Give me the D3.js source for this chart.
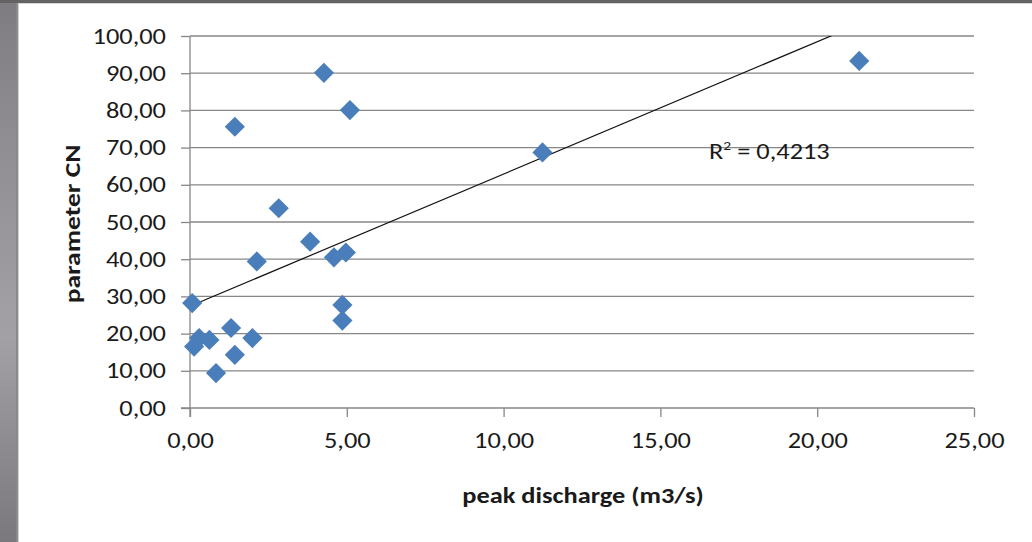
<!DOCTYPE html>
<html>
<head>
<meta charset="utf-8">
<script src="https://cdn.jsdelivr.net/npm/d3@7"></script>
<style>
  html, body { margin: 0; padding: 0; background: #ffffff; }
  svg { display: block; }
  text { font-family: Carlito, Lato, "Open Sans", sans-serif; fill: #1a1a1a; }
</style>
</head>
<body>
<svg id="chart" width="1032" height="542"></svg>
<script>
// ---- data ----
const peakDischarge = [0.07, 0.13, 0.29, 0.62, 0.83, 1.31, 1.43, 1.43, 1.99, 2.13,
                       2.83, 3.83, 4.27, 4.59, 4.86, 4.86, 4.97, 5.10, 11.24, 21.34];
const parameterCN   = [28.2, 16.5, 18.8, 18.3, 9.4, 21.5, 14.3, 75.6, 18.8, 39.4,
                       53.7, 44.7, 90.1, 40.5, 27.7, 23.5, 41.8, 80.1, 68.7, 93.3];
const xTicks = [0, 5, 10, 15, 20, 25];
const yTicks = [0, 10, 20, 30, 40, 50, 60, 70, 80, 90, 100];
const xTitle = "peak discharge (m3/s)";
const yTitle = "parameter CN";
const r2Label = "0,4213";

const points = peakDischarge.map((x, i) => ({ x, y: parameterCN[i] }));
const fmt = v => d3.format(".2f")(v).replace(".", ",");
const STRETCH = 1.2; // reference text is drawn horizontally wide

function stretch(sel) {
  sel.each(function () {
    const L = this.getComputedTextLength();
    d3.select(this).attr("textLength", L * STRETCH).attr("lengthAdjust", "spacingAndGlyphs");
  });
}

const svg = d3.select("#chart");
const W = 1032, H = 542;

// ---- slide frame background ----
const defs = svg.append("defs");
const lg = defs.append("linearGradient").attr("id", "frameL").attr("x1", 0).attr("y1", 0).attr("x2", 0).attr("y2", 1);
lg.append("stop").attr("offset", "0%").attr("stop-color", "#7e7c80");
lg.append("stop").attr("offset", "25%").attr("stop-color", "#8f8d92");
lg.append("stop").attr("offset", "62%").attr("stop-color", "#a3a1a6");
lg.append("stop").attr("offset", "100%").attr("stop-color", "#7a787c");
svg.append("rect").attr("x", 0).attr("y", 0).attr("width", W).attr("height", H).attr("fill", "#ffffff");
svg.append("rect").attr("x", 0).attr("y", 0).attr("width", 16).attr("height", H).attr("fill", "url(#frameL)");
svg.append("rect").attr("x", 16).attr("y", 0).attr("width", 2).attr("height", H).attr("fill", "#8a8a8a");
svg.append("rect").attr("x", 18).attr("y", 3).attr("width", 1).attr("height", H).attr("fill", "#d4d4d4");
svg.append("rect").attr("x", 0).attr("y", 0).attr("width", W).attr("height", 3).attr("fill", "#636363");
svg.append("rect").attr("x", 18).attr("y", 3).attr("width", W).attr("height", 1).attr("fill", "#d8d8d8");

// ---- scales ----
const x = d3.scaleLinear().domain([0, 25]).range([190, 974]);
const y = d3.scaleLinear().domain([0, 100]).range([408, 36]);

const gridColor = "#878787";

// horizontal gridlines
svg.append("g").selectAll("line").data(yTicks.filter(t => t > 0)).join("line")
  .attr("x1", x(0)).attr("x2", x(25))
  .attr("y1", d => y(d)).attr("y2", d => y(d))
  .attr("stroke", gridColor).attr("stroke-width", 1.3);

// y axis
const yAxis = d3.axisLeft(y).tickValues(yTicks).tickFormat(fmt).tickSize(9).tickPadding(15);
const gy = svg.append("g").attr("transform", `translate(${x(0)},0)`).call(yAxis);
gy.select(".domain").attr("stroke", gridColor).attr("stroke-width", 1.3).attr("d", `M0,${y(100)}V${y(0) + 9}`);
gy.selectAll(".tick line").attr("stroke", gridColor).attr("stroke-width", 1.3);
gy.selectAll(".tick text").style("font-size", "22px").attr("fill", "#1a1a1a").call(stretch);

// x axis
const xAxis = d3.axisBottom(x).tickValues(xTicks).tickFormat(fmt).tickSize(9).tickPadding(15);
const gx = svg.append("g").attr("transform", `translate(0,${y(0)})`).call(xAxis);
gx.select(".domain").attr("stroke", gridColor).attr("stroke-width", 1.3).attr("d", `M${x(0) - 9},0H${x(25)}`);
gx.selectAll(".tick line").attr("stroke", gridColor).attr("stroke-width", 1.3);
gx.selectAll(".tick text").style("font-size", "22px").attr("fill", "#1a1a1a").call(stretch);

// ---- trendline (least squares, as Excel) ----
const mx = d3.mean(peakDischarge), my = d3.mean(parameterCN);
const sxy = d3.sum(points, p => (p.x - mx) * (p.y - my));
const sxx = d3.sum(points, p => (p.x - mx) ** 2);
const slope = sxy / sxx, intercept = my - slope * mx;
const xr = d3.extent(peakDischarge);
defs.append("clipPath").attr("id", "plotClip").append("rect")
  .attr("x", x(0)).attr("y", y(100)).attr("width", x(25) - x(0)).attr("height", y(0) - y(100));
svg.append("line")
  .attr("clip-path", "url(#plotClip)")
  .attr("x1", x(xr[0])).attr("y1", y(intercept + slope * xr[0]))
  .attr("x2", x(xr[1])).attr("y2", y(intercept + slope * xr[1]))
  .attr("stroke", "#111").attr("stroke-width", 1.2);

// ---- markers ----
const diamond = d3.symbol().type(d3.symbolDiamond2).size(260);
svg.append("g").selectAll("path").data(points).join("path")
  .attr("d", diamond)
  .attr("transform", d => `translate(${x(d.x)},${y(d.y)})`)
  .attr("fill", "#4a7ebb");

// ---- R² label ----
const rt = svg.append("text").attr("transform", `translate(709,159) scale(${STRETCH},1)`).style("font-size", "22px");
rt.append("tspan").text("R");
rt.append("tspan").attr("dy", -9).style("font-size", "13px").text("2");
rt.append("tspan").attr("dy", 9).text(" = " + r2Label);

// ---- axis titles ----
svg.append("text").attr("transform", `translate(583,503) scale(${STRETCH},1)`).attr("text-anchor", "middle")
  .style("font-size", "22px").style("font-weight", "bold").text(xTitle);
svg.append("text").attr("transform", `translate(80,224) rotate(-90) scale(${STRETCH + 0.05},1)`).attr("text-anchor", "middle")
  .style("font-size", "22px").style("font-weight", "bold").text(yTitle);
</script>
</body>
</html>
